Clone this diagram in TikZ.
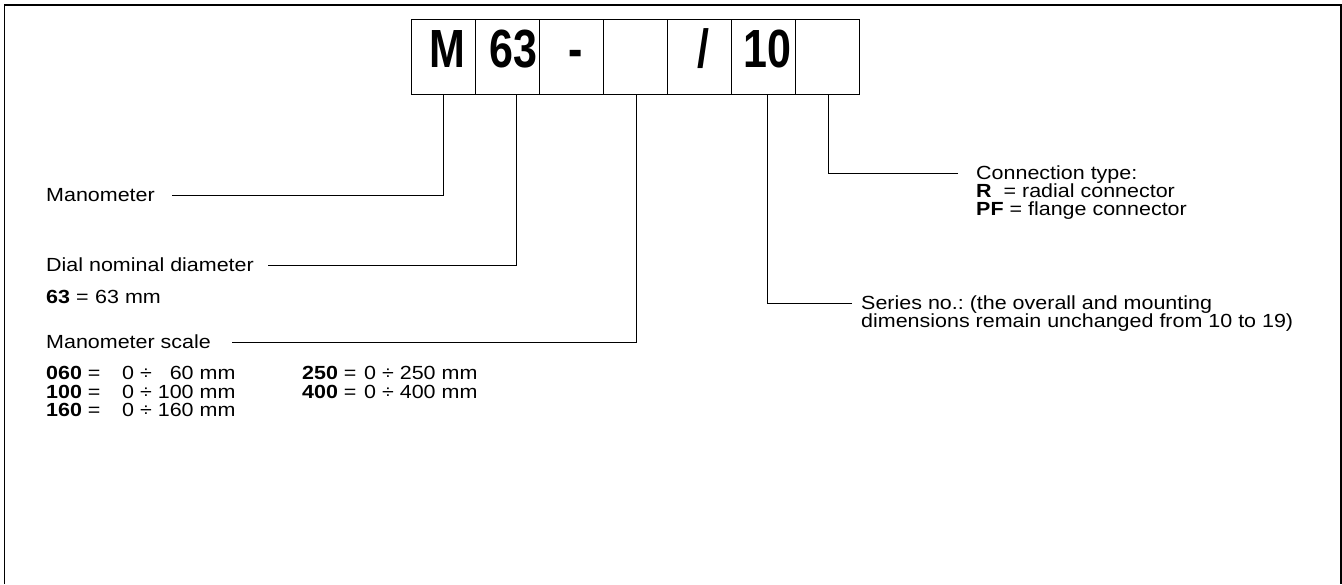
\documentclass[tikz,border=0pt]{standalone}
\usepackage{fontspec}
\usepackage{graphicx}
\setmainfont{Liberation Sans}[FakeStretch=1.13]
\newfontfamily\bigfont{Liberation Sans}
\usetikzlibrary{calc}
\frenchspacing
\newcommand\bigc[2][8]{\raisebox{-11pt}[0pt][0pt]{\makebox[0pt]{\hspace{#1pt}\scalebox{1}[1.25]{#2}}}}
\tikzset{
  codebox/.style={draw, line width=0.8pt, minimum width=64pt, minimum height=75pt, inner sep=0pt, anchor=north west, font=\bigfont\fontsize{43}{43}\selectfont\bfseries},
  lbl/.style={anchor=base west, inner sep=0pt, font=\fontsize{19}{18.5}\selectfont},
  conn/.style={line width=0.9pt},
  frame/.style={line width=1.5pt}
}
\begin{document}
\begin{tikzpicture}[x=1pt, y=-1pt]
\useasboundingbox (0,0) rectangle (1342,584);
\draw[frame] (4.5,584) -- (4.5,5) -- (1341,5) -- (1341,584);

% code boxes
\node[codebox] (b1) at (411,19) {\bigc[8]{M}};
\node[codebox] (b2) at (475,19) {\bigc[12]{63}};
\node[codebox] (b3) at (539,19) {\bigc[8]{-}};
\node[codebox] (b4) at (603,19) {};
\node[codebox] (b5) at (667,19) {\bigc[8]{/}};
\node[codebox] (b6) at (731,19) {\bigc[8]{10}};
\node[codebox] (b7) at (795,19) {};

% labels
\node[lbl] (man) at (46,201.5) {Manometer};
\node[lbl] (dial) at (46,271.5) {Dial nominal diameter};
\node[lbl] (d63a) at (46,303.5) {\textbf{63} =};
\node[lbl] (d63b) at (95,303.5) {63 mm};
\node[lbl] (scale) at (46,348.5) {Manometer scale};
\node[lbl] (r1a) at (46,379.5) {\textbf{060} =};
\node[lbl] (r1b) at (122,379.5) {0 ÷ \phantom{1}60 mm};
\node[lbl] (r1c) at (302,379.5) {\textbf{250} =};
\node[lbl] (r1d) at (364,379.5) {0 ÷ 250 mm};
\node[lbl] (r2a) at (46,398) {\textbf{100} =};
\node[lbl] (r2b) at (122,398) {0 ÷ 100 mm};
\node[lbl] (r2c) at (302,398) {\textbf{400} =};
\node[lbl] (r2d) at (364,398) {0 ÷ 400 mm};
\node[lbl] (r3a) at (46,416.5) {\textbf{160} =};
\node[lbl] (r3b) at (122,416.5) {0 ÷ 160 mm};

\node[lbl] (ct1) at (976,179) {Connection type:};
\node[lbl] (ct2) at (976,197) {\textbf{R}\ \ = radial connector};
\node[lbl] (ct3) at (976,215) {\textbf{PF} = flange connector};

\node[lbl] (s1) at (861,309.5) {Series no.: (the overall and mounting};
\node[lbl] (s2) at (861,327.5) {dimensions remain unchanged from 10 to 19)};

% connectors
\coordinate (m1) at (172,195);
\draw[conn] (m1) -| (b1.south);
\coordinate (d1) at (268,265);
\draw[conn] (d1) -| ($(b2.south)+(9,0)$);
\coordinate (sc1) at (232,342);
\draw[conn] (sc1) -| ($(b4.south)+(1,0)$);
\coordinate (se1) at (852,303);
\draw[conn] (se1) -| ($(b6.south)+(4,0)$);
\coordinate (co1) at (958,173);
\draw[conn] (co1) -| ($(b7.south)+(1,0)$);
\end{tikzpicture}
\end{document}
